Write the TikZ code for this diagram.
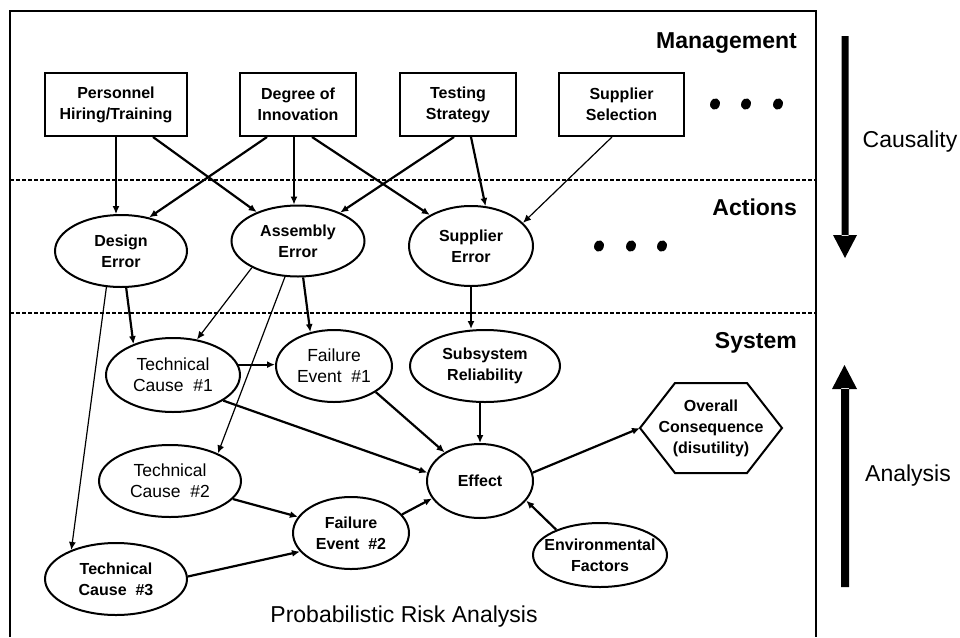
\documentclass[tikz,border=0pt]{standalone}
\usepackage{fontspec}
\setmainfont{Liberation Sans}
\usetikzlibrary{shapes.geometric,arrows.meta,calc}

% font sizes used in the diagram
\newcommand\nodebf{\fontsize{16}{21}\selectfont\bfseries}
\newcommand\nodert{\fontsize{17.5}{21}\selectfont}
\newcommand\layerfont{\fontsize{23}{27}\selectfont\bfseries}
\newcommand\sidefont{\fontsize{23}{27}\selectfont}

\tikzset{
  mgmtbox/.style={draw, line width=2pt, minimum height=63pt, inner sep=0pt,
    align=center, font=\nodebf},
  ell/.style={ellipse, draw, line width=2pt, inner xsep=-45pt, inner ysep=-22pt,
    align=center},
  ellbf/.style={ell, font=\nodebf},
  ellrt/.style={ell, font=\nodert},
  tk/.style={line width=2.2pt, -{Latex[length=8pt,width=7pt]}},
  tn/.style={line width=1.2pt, -{Latex[length=8pt,width=7pt]}},
  layersep/.style={line width=2pt, dash pattern=on 4pt off 2pt},
  layerlabel/.style={anchor=east, inner sep=0pt, font=\layerfont},
  sidelabel/.style={inner sep=0pt, font=\sidefont},
  dot/.style={fill=black},
}

\begin{document}
\begin{tikzpicture}[x=1pt,y=-1pt]
\useasboundingbox (0,0) rectangle (960,637);

% outer frame and layer separators
\draw[line width=2.2pt] (10,637) -- (10,11) -- (816,11) -- (816,637);
\draw[layersep] (10,180) -- (816,180);
\draw[layersep] (10,313) -- (816,313);

% layer labels
\node[layerlabel] (mgmt) at (797,43) {Management};
\node[layerlabel] (act)  at (797,207) {Actions};
\node[layerlabel] (sys)  at (797,343) {System};

% management decisions
\node[mgmtbox, minimum width=142pt] (pers) at (116,104.5) {Personnel\\Hiring/Training};
\node[mgmtbox, minimum width=116pt] (deg)  at (298,104.5) {Degree of\\Innovation};
\node[mgmtbox, minimum width=116pt] (test) at (458,104.5) {Testing\\Strategy};
\node[mgmtbox, minimum width=125pt] (ssel) at (621.5,104.5) {Supplier\\Selection};

% ellipsis marks
\foreach \x in {715,746,778} \fill[dot, rotate around={-20:(\x,104)}] (\x,104) ellipse [x radius=4.8, y radius=5.8];
\foreach \x in {599,631,662} \fill[dot, rotate around={-20:(\x,246)}] (\x,246) ellipse [x radius=4.8, y radius=5.8];

% actions
\node[ellbf, minimum width=132pt, minimum height=72pt] (des)  at (121,251) {Design\\Error};
\node[ellbf, minimum width=133pt, minimum height=71pt] (asm)  at (298,241) {Assembly\\Error};
\node[ellbf, minimum width=124pt, minimum height=80pt] (supe) at (471,246) {Supplier\\Error};

% system
\node[ellrt, minimum width=134pt, minimum height=74pt] (tc1)  at (173,375) {Technical\\Cause~~\#1};
\node[ellrt, minimum width=116pt, minimum height=72pt] (fe1)  at (334,366) {Failure\\Event~~\#1};
\node[ellbf, minimum width=150pt, minimum height=72pt] (subr) at (485,366) {Subsystem\\Reliability};
\node[ellrt, minimum width=142pt, minimum height=72pt] (tc2)  at (170,481) {Technical\\Cause~~\#2};
\node[ellbf, minimum width=106pt, minimum height=74pt] (eff)  at (480,481) {Effect};
\node[ellbf, minimum width=116pt, minimum height=72pt] (fe2)  at (351,533) {Failure\\Event~~\#2};
\node[ellbf, minimum width=142pt, minimum height=72pt] (tc3)  at (116,579) {Technical\\Cause~~\#3};
\node[ellbf, minimum width=134pt, minimum height=64pt] (env)  at (600,555) {Environmental\\Factors};

% overall consequence (hexagon)
\node[minimum width=142pt, minimum height=90pt, inner sep=0pt, outer sep=0pt,
      align=center, font=\nodebf] (cons) at (711,428) {Overall\\Consequence\\(disutility)};
\draw[line width=2pt, line join=miter]
  (cons.west) -- ($(cons.north west)+(35,0)$) -- ($(cons.north east)+(-35,0)$)
  -- (cons.east) -- ($(cons.south east)+(-35,0)$) -- ($(cons.south west)+(35,0)$) -- cycle;

% management -> actions
\draw[tn] (pers.south) -- (pers.south |- des.north);
\draw[tk] ([xshift=37pt]pers.south) -- (asm.145);
\draw[tk] ([xshift=-31pt]deg.south) -- (des.50);
\draw[tn] ([xshift=-4pt]deg.south) -- ([xshift=-4pt]deg.south |- asm.north);
\draw[tk] ([xshift=14pt]deg.south) -- (supe.143);
\draw[tk] ([xshift=-4pt]test.south) -- (asm.34);
\draw[tk] ([xshift=13pt]test.south) -- (supe.70);
\draw[tn] ([xshift=-9.5pt]ssel.south) -- (supe.24);

% actions -> system
\draw[tn] (des.-112) -- (tc3.147);
\draw[tk] (des.-82) -- (tc1.142);
\draw[tn] (asm.210) -- (tc1.56);
\draw[tn] (asm.-110) -- (tc2.30);
\draw[tk] (asm.-82) -- (fe1.125);
\draw[tk] (supe.south) -- (supe.south |- subr.north);

% within the system
\draw[tk] (tc1.9) -- (tc1.9 -| fe1.west);
\draw[tk] (tc1.-27) -- (eff.171);
\draw[tk] (fe1.-32) -- (eff.141);
\draw[tk] (eff.north |- subr.south) -- (eff.north);
\draw[tk] (tc2.-16) -- (fe2.163);
\draw[tk] (fe2.20) -- (eff.200);
\draw[tk] (tc3.2) -- (fe2.200);
\draw[tk] (env.150) -- (eff.-23);
\draw[tk] (eff.9) -- (cons.west);

% title
\node[inner sep=0pt, font=\sidefont] (title) at (404,617) {Probabilistic Risk Analysis};

% direction arrows at the side
\fill (841.5,36) rectangle (848.5,236) (833,235) -- (857,235) -- (845,258) -- cycle;
\fill (841,587) rectangle (849,388) (832,389) -- (857,389) -- (844.5,365) -- cycle;
\node[sidelabel] (caus) at (910,142) {Causality};
\node[sidelabel] (anal) at (908,476) {Analysis};
\end{tikzpicture}
\end{document}
